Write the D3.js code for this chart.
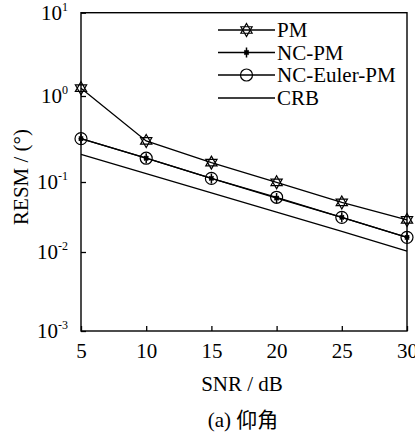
<!DOCTYPE html>
<html>
<head>
<meta charset="utf-8">
<script src="https://cdn.jsdelivr.net/npm/d3@7"></script>
<style>
  html, body { margin: 0; padding: 0; background: #fff; }
  svg { display: block; }
  text { font-family: "Liberation Serif", "Times New Roman", "Noto Sans CJK SC", serif; fill: #000; }
</style>
</head>
<body>
<svg id="chart" width="415" height="433"></svg>
<script>
// SNR sweep (dB)
const snr = [5, 10, 15, 20, 25, 30];
// RMSE of the elevation estimate (degrees)
const pm        = [1.24, 0.30, 0.168, 0.099, 0.051, 0.0287];
const ncPm      = [0.319, 0.189, 0.110, 0.0590, 0.0313, 0.0162];
const ncEulerPm = [0.319, 0.189, 0.110, 0.0605, 0.0313, 0.0162];
const crb       = [0.210, 0.125, 0.0698, 0.0371, 0.0197, 0.0103];

const seriesNames = ["PM", "NC-PM", "NC-Euler-PM", "CRB"];
const xTicks = [5, 10, 15, 20, 25, 30];
const yTicks = [10, 1, 0.1, 0.01, 0.001];
const yExponents = ["1", "0", "-1", "-2", "-3"];

const svg = d3.select("#chart");
const plot = { left: 81, right: 407, top: 12.7, bottom: 331 };
const fontSize = 21;

const x = d3.scaleLinear().domain([5, 30]).range([plot.left, plot.right]);
// decade positions on the log axis
const y = d3.scaleLog()
  .domain(yTicks)
  .range([plot.top, 96, 182, 252, plot.bottom]);

const lineGen = d3.line().x((d, i) => x(snr[i])).y(d => y(d));

// markers
function hexagram(r) {
  const p = a => [r * Math.cos(a * Math.PI / 180), r * Math.sin(a * Math.PI / 180)];
  const tri = angs => "M" + angs.map(a => p(a).join(",")).join("L") + "Z";
  return tri([-90, 30, 150]) + tri([90, 210, 330]);
}
function asterisk(r) {
  const d = r * 0.7071;
  return `M0,${-r}L0,${r}M${-r * 0.5},0L${r * 0.5},0M${-d * 0.6},${-d * 0.6}L${d * 0.6},${d * 0.6}M${-d * 0.6},${d * 0.6}L${d * 0.6},${-d * 0.6}`;
}
function drawMarker(g, type, cx, cy) {
  if (type === "star") {
    g.append("path").attr("d", hexagram(6.5)).attr("transform", `translate(${cx},${cy})`)
      .attr("fill", "none").attr("stroke", "#000").attr("stroke-width", 1.2);
  } else if (type === "asterisk") {
    g.append("path").attr("d", asterisk(5)).attr("transform", `translate(${cx},${cy})`)
      .attr("fill", "none").attr("stroke", "#000").attr("stroke-width", 1.5);
  } else if (type === "circle") {
    g.append("circle").attr("cx", cx).attr("cy", cy).attr("r", 6)
      .attr("fill", "none").attr("stroke", "#000").attr("stroke-width", 1.2);
  }
}

const series = [
  { name: seriesNames[0], values: pm, marker: "star" },
  { name: seriesNames[1], values: ncPm, marker: "asterisk" },
  { name: seriesNames[2], values: ncEulerPm, marker: "circle" },
  { name: seriesNames[3], values: crb, marker: null }
];

const dataG = svg.append("g");
series.forEach(s => {
  dataG.append("path").datum(s.values).attr("d", lineGen)
    .attr("fill", "none").attr("stroke", "#000").attr("stroke-width", 1.3);
});
series.forEach(s => {
  if (!s.marker) return;
  s.values.forEach((v, i) => drawMarker(dataG, s.marker, x(snr[i]), y(v)));
});

// frame
svg.append("rect")
  .attr("x", plot.left).attr("y", plot.top)
  .attr("width", plot.right - plot.left).attr("height", plot.bottom - plot.top)
  .attr("fill", "none").attr("stroke", "#000").attr("stroke-width", 1.4);

// axes with inward ticks
const xAxis = svg.append("g").attr("transform", `translate(0,${plot.bottom})`)
  .call(d3.axisBottom(x).tickValues(xTicks).tickSizeInner(-5).tickSizeOuter(0).tickPadding(12));
xAxis.select(".domain").remove();
xAxis.selectAll("line").attr("stroke", "#000").attr("stroke-width", 1.3);
xAxis.selectAll("text").attr("font-size", fontSize).attr("font-family", "Liberation Serif").attr("dy", "0.71em");

const yAxis = svg.append("g").attr("transform", `translate(${plot.left},0)`)
  .call(d3.axisLeft(y).tickValues(yTicks).tickSizeInner(-5).tickSizeOuter(0).tickFormat(""));
yAxis.select(".domain").remove();
yAxis.selectAll("line").attr("stroke", "#000").attr("stroke-width", 1.3);

yTicks.forEach((v, i) => {
  const t = svg.append("text")
    .attr("x", 68).attr("y", y(v) + 7)
    .attr("text-anchor", "end").attr("font-size", fontSize);
  t.append("tspan").text("10");
  t.append("tspan").attr("dy", -9).attr("font-size", 12).text(yExponents[i]);
});

// axis titles
svg.append("text").attr("x", 242).attr("y", 391).attr("text-anchor", "middle")
  .attr("font-size", fontSize).text("SNR / dB");
svg.append("text").attr("x", 243).attr("y", 427).attr("text-anchor", "middle")
  .attr("font-size", fontSize).text("(a) 仰角");
svg.append("text").attr("transform", "translate(28,177) rotate(-90)")
  .attr("text-anchor", "middle").attr("font-size", fontSize).text("RESM / (°)");

// legend
const legend = svg.append("g");
const legendRows = [30, 52.5, 75, 98];
series.forEach((s, i) => {
  const ly = legendRows[i];
  legend.append("line").attr("x1", 218).attr("x2", 275).attr("y1", ly).attr("y2", ly)
    .attr("stroke", "#000").attr("stroke-width", 1.3);
  if (s.marker) drawMarker(legend, s.marker, 246.5, ly);
  legend.append("text").attr("x", 277).attr("y", ly + 7).attr("font-size", fontSize).text(s.name);
});
</script>
</body>
</html>
